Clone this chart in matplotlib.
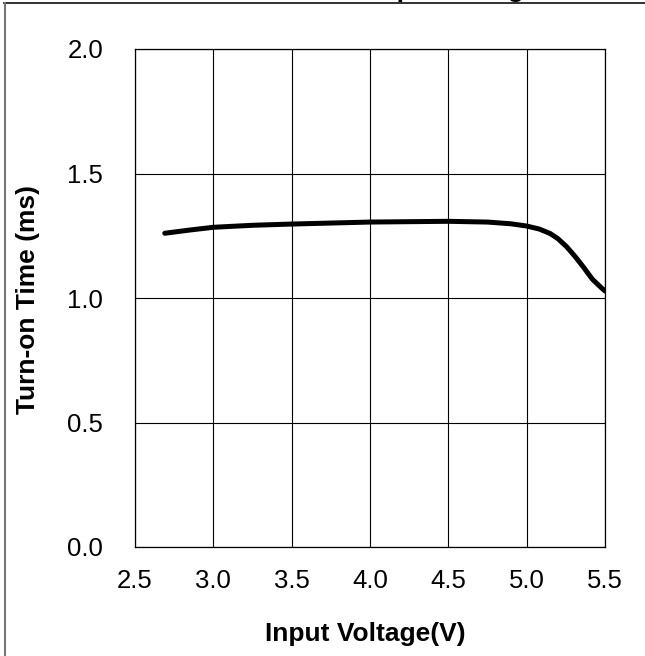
import matplotlib
matplotlib.use("Agg")
import matplotlib.pyplot as plt
from matplotlib.lines import Line2D

plt.rcParams['font.family'] = ['Liberation Sans', 'DejaVu Sans']

voltage = [2.69, 2.85, 3.0, 3.25, 3.5, 4.0, 4.5, 4.75, 4.9, 5.0, 5.08, 5.15, 5.2, 5.255, 5.31, 5.36, 5.42, 5.47, 5.5]
turn_on = [1.26, 1.273, 1.284, 1.292, 1.297, 1.305, 1.308, 1.305, 1.298, 1.289, 1.277, 1.259, 1.238, 1.206, 1.166, 1.126, 1.075, 1.045, 1.028]
x_ticks = [2.5, 3.0, 3.5, 4.0, 4.5, 5.0, 5.5]
y_ticks = [0.0, 0.5, 1.0, 1.5, 2.0]

W, H = 645, 656
fig = plt.figure(figsize=(W/100, H/100), dpi=100)
L, R, T, B = 135, 605, 49, 547
ax = fig.add_axes([L/W, 1-B/H, (R-L)/W, (B-T)/H])

ax.plot(voltage, turn_on, color='black', lw=3.6, solid_capstyle='round', solid_joinstyle='round')
ax.set_xlim(2.5, 5.5)
ax.set_ylim(0, 2.0)
ax.set_xticks(x_ticks)
ax.set_yticks(y_ticks)
ax.set_xticklabels([f"{v:.1f}" for v in x_ticks])
ax.set_yticklabels([f"{v:.1f}" for v in y_ticks])
ax.grid(True, color='black', lw=0.8)
ax.tick_params(axis='both', length=0, labelsize=18.5)
ax.tick_params(axis='y', pad=23)
ax.tick_params(axis='x', pad=16)
for s in ax.spines.values():
    s.set_color('black')
    s.set_linewidth(0.9)

ax.set_xlabel('Input Voltage(V)', fontsize=19, fontweight='bold', va='center')
ax.xaxis.set_label_coords((365-L)/(R-L), (B-634)/(B-T))
ax.set_ylabel('Turn-on Time (ms)', fontsize=19, fontweight='bold', va='center')
ax.yaxis.set_label_coords((28-L)/(R-L), (B-300)/(B-T))

fig.text(156/W, 1 + 2.5/H, 'Turn-on Time vs. Input Voltage', ha='left', va='baseline',
         fontsize=19, fontweight='bold')

fig.add_artist(Line2D([4/W, 1], [1-3/H, 1-3/H], color='#222222', lw=1.3, transform=fig.transFigure))
fig.add_artist(Line2D([4.8/W, 4.8/W], [0, 1-3/H], color='#777777', lw=1.5, transform=fig.transFigure))

fig.savefig('out.png', dpi=100)
